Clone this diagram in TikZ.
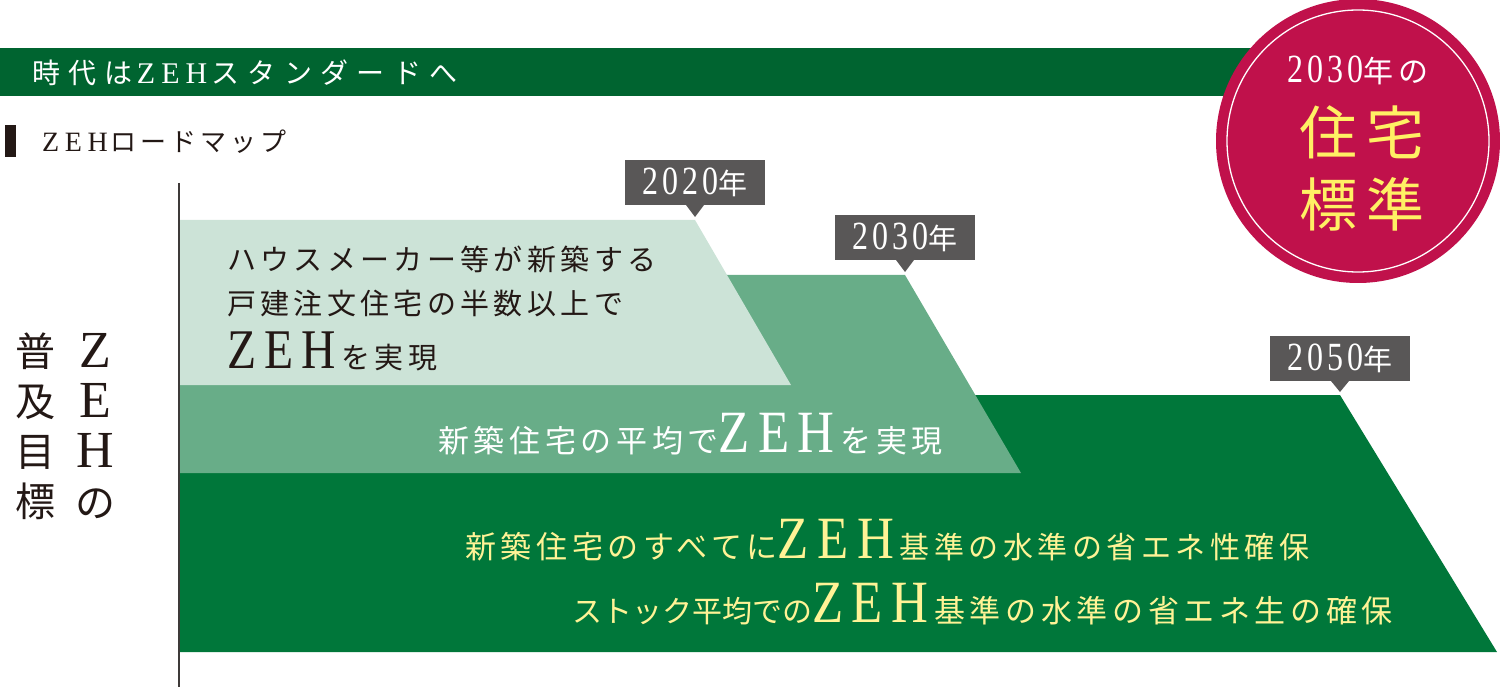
\documentclass[tikz,border=0pt]{standalone}
\usepackage{fontspec}
\setmainfont{Liberation Serif}
\newfontfamily\jp[LetterSpace=15]{Noto Sans CJK JP}
\newfontfamily\jptight{Noto Sans CJK JP}
\newfontfamily\jpwide[LetterSpace=30]{Noto Sans CJK JP}
\newfontfamily\zeh[FakeStretch=0.85,LetterSpace=14]{Liberation Serif}
\newfontfamily\digits[FakeStretch=0.8,LetterSpace=10]{Liberation Serif}
\newfontfamily\latwide[LetterSpace=20]{Liberation Serif}
\usetikzlibrary{positioning}
\definecolor{bannergreen}{RGB}{0,100,48}
\definecolor{stepone}{RGB}{204,227,215}
\definecolor{steptwo}{RGB}{104,173,136}
\definecolor{stepthree}{RGB}{0,119,58}
\definecolor{yeargray}{RGB}{89,87,87}
\definecolor{ink}{RGB}{35,24,21}
\definecolor{badgered}{RGB}{192,17,75}
\definecolor{badgeyellow}{RGB}{255,240,100}
\definecolor{lineyellow}{RGB}{255,243,150}
\definecolor{axisgray}{RGB}{62,58,57}
\newcommand\bigzeh[1]{{\zeh\fontsize{#1}{#1}\selectfont ZEH}\hspace{6pt}}

\begin{document}
\begin{tikzpicture}[
  x=1pt, y=-1pt,
  every node/.style={inner sep=0pt},
  txt/.style={anchor=base west},
  yearbox/.style={fill=yeargray, text=white, minimum width=140pt, minimum height=45pt},
  vlabel/.style={anchor=north, align=center, text=ink}]
\useasboundingbox (0,0) rectangle (1500,687);
\fill[bannergreen] (0,48) rectangle (1260,96);
\node[txt, text=white] (banner) at (32,84)
  {\fontsize{28}{28}\selectfont\jpwide 時代は\hspace{4pt}{\latwide\fontsize{30}{30}\selectfont ZEH}\hspace{4pt}スタンダードへ};
\node[circle, fill=badgered, minimum size=284pt] (badge) at (1358,141) {};
\draw[white, line width=1.3pt] (badge.center) circle[radius=131pt];
\node[anchor=base, text=white] (badge1) at (1358,83)
  {{\digits\fontsize{40}{40}\selectfont 2030}{\jp\fontsize{30}{30}\selectfont 年の}};
\node[anchor=base, text=badgeyellow] (badge2) at (1362,155) {\fontsize{58}{58}\selectfont\jp 住宅};
\node[anchor=base, text=badgeyellow] (badge3) at (1362,227) {\fontsize{58}{58}\selectfont\jp 標準};
\fill[ink] (5,125) rectangle (16,157);
\node[txt, text=ink] (roadmap) at (42,152)
  {{\latwide\fontsize{28}{28}\selectfont ZEH}\hspace{3pt}{\jp\fontsize{26}{26}\selectfont ロードマップ}};
\coordinate (top20) at (695,220);
\coordinate (top30) at (905,275);
\coordinate (top50) at (1340,395);
\fill[stepthree] (179,395) -- (top50) -- (1497,652) -- (179,652) -- cycle;
\fill[steptwo] (179,275) -- (top30) -- (1021,473) -- (179,473) -- cycle;
\fill[stepone] (179,220) -- (top20) -- (791,385) -- (179,385) -- cycle;
\draw[axisgray, line width=1.5pt] (179,183) -- (179,687);
\node[yearbox, above=15pt of top20] (y20)
  {{\digits\fontsize{40}{40}\selectfont 2020}{\jp\fontsize{29}{29}\selectfont 年}};
\fill[yeargray] ([xshift=-9pt]y20.south) -- ([xshift=9pt]y20.south) -- ([yshift=3pt]top20) -- cycle;
\node[yearbox, above=15pt of top30] (y30)
  {{\digits\fontsize{40}{40}\selectfont 2030}{\jp\fontsize{29}{29}\selectfont 年}};
\fill[yeargray] ([xshift=-9pt]y30.south) -- ([xshift=9pt]y30.south) -- ([yshift=3pt]top30) -- cycle;
\node[yearbox, above=14pt of top50] (y50)
  {{\digits\fontsize{40}{40}\selectfont 2050}{\jp\fontsize{29}{29}\selectfont 年}};
\fill[yeargray] ([xshift=-9pt]y50.south) -- ([xshift=9pt]y50.south) -- ([yshift=3pt]top50) -- cycle;
\node[txt, text=ink] (goal1a) at (227,271) {\fontsize{29}{29}\selectfont\jp ハウスメーカー等が新築する};
\node[txt, text=ink] (goal1b) at (227,314) {\fontsize{29}{29}\selectfont\jp 戸建注文住宅の半数以上で};
\node[txt, text=ink] (goal1c) at (227,368)
  {\bigzeh{56}{\jp\fontsize{29}{29}\selectfont を実現}};
\node[txt, text=white] (goal2) at (438,452)
  {{\jp\fontsize{31}{31}\selectfont 新築住宅の平均で}\bigzeh{60}{\jp\fontsize{31}{31}\selectfont を実現}};
\node[txt, text=lineyellow] (goal3a) at (465,558)
  {{\jp\fontsize{31}{31}\selectfont 新築住宅のすべてに}\bigzeh{60}{\jp\fontsize{30}{30}\selectfont 基準の水準の省エネ性確保}};
\node[txt, text=lineyellow] (goal3b) at (572,622)
  {{\jptight\fontsize{30}{30}\selectfont ストック平均での}\bigzeh{60}{\jp\fontsize{31}{31}\selectfont 基準の水準の省エネ生の確保}};
\node[vlabel, font=\fontsize{40}{50}\selectfont\jp] (spread) at (35,333) {普\\及\\目\\標};
\node[vlabel, font=\fontsize{52}{50}\selectfont] (zehof) at (95,333) {Z\\E\\H\\{\jp\fontsize{40}{50}\selectfont の}};
\end{tikzpicture}
\end{document}
